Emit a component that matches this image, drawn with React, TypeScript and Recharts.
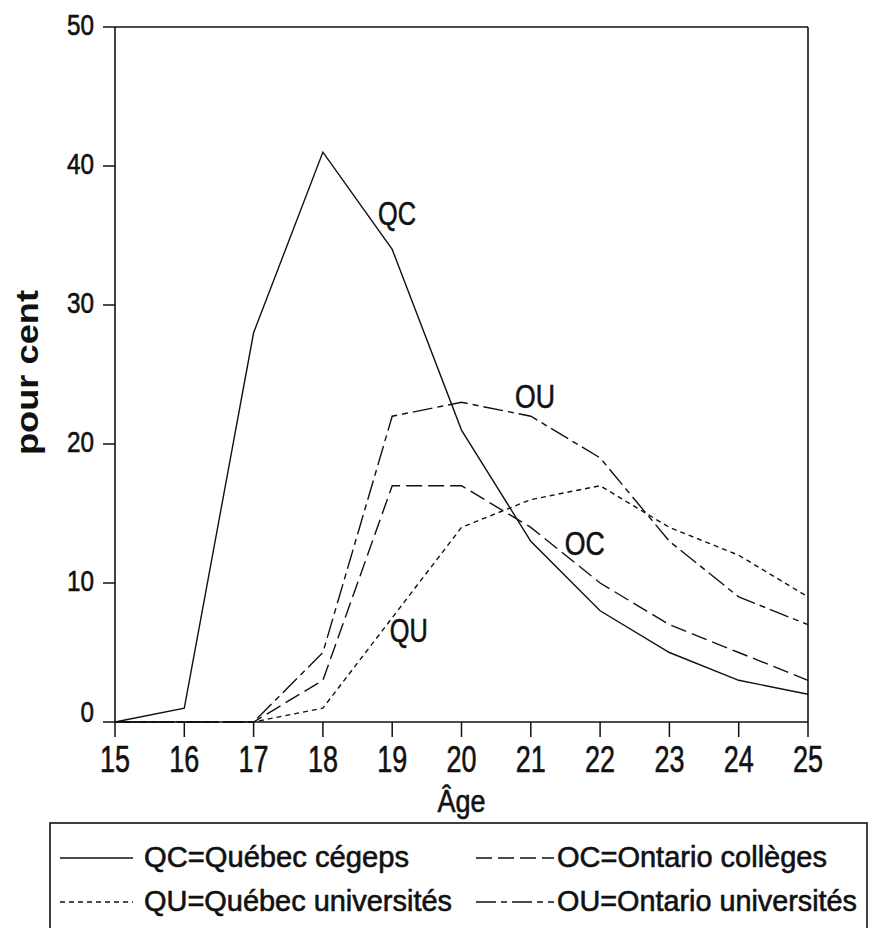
import React from 'react';
import { LineChart, Line, XAxis, YAxis, ReferenceLine, ReferenceDot, Legend } from 'recharts';

const ages = [15, 16, 17, 18, 19, 20, 21, 22, 23, 24, 25];
const qcValues = [0, 1, 28, 41, 34, 21, 13, 8, 5, 3, 2];
const ocValues = [0, 0, 0, 3, 17, 17, 14, 10, 7, 5, 3];
const quValues = [0, 0, 0, 1, 7.5, 14, 16, 17, 14, 12, 9];
const ouValues = [0, 0, 0, 5, 22, 23, 22, 19, 13, 9, 7];
const xTicks = ages;
const yTicks = [0, 10, 20, 30, 40, 50];
const seriesKeys = ['qc', 'oc', 'qu', 'ou'];
const seriesNames = ['QC=Québec cégeps', 'OC=Ontario collèges', 'QU=Québec universités', 'OU=Ontario universités'];
const shortNames = ['QC', 'OC', 'QU', 'OU'];

const data = ages.map((age, i) => ({
  age,
  qc: qcValues[i],
  oc: ocValues[i],
  qu: quValues[i],
  ou: ouValues[i],
}));

const FONT = "'Liberation Sans', Arial, sans-serif";
const INK = '#111';
const THICK = 0.6;

const XTick = (props: any) => {
  const { x, y, payload } = props;
  const s = String(payload.value);
  return (
    <text x={x} y={y + 35} textAnchor="middle" fontSize={37} fontFamily={FONT} fill={INK}
      stroke={INK} strokeWidth={THICK}
      textLength={15 * s.length} lengthAdjust="spacingAndGlyphs">{s}</text>
  );
};

const YTick = (props: any) => {
  const { x, y, payload } = props;
  const s = String(payload.value);
  const base = payload.value === 0 ? y : y + 8;
  return (
    <text x={x - 9} y={base} textAnchor="end" fontSize={29} fontFamily={FONT} fill={INK}
      stroke={INK} strokeWidth={THICK}
      textLength={13.5 * s.length} lengthAdjust="spacingAndGlyphs">{s}</text>
  );
};

const XLabel = (props: any) => {
  const vb = props.viewBox || {};
  return (
    <text x={vb.x + vb.width / 2} y={vb.y + 90} textAnchor="middle" fontSize={32} fontFamily={FONT} fill={INK}
      stroke={INK} strokeWidth={THICK}
      textLength={48} lengthAdjust="spacingAndGlyphs">Âge</text>
  );
};

const YLabel = (props: any) => {
  const vb = props.viewBox || {};
  const cx = vb.x - 17;
  const cy = vb.y + vb.height / 2 - 2;
  return (
    <text transform={`translate(${cx},${cy}) rotate(-90)`} textAnchor="middle" fontSize={31} fontWeight="bold"
      fontFamily={FONT} fill={INK} textLength={165} lengthAdjust="spacingAndGlyphs">pour cent</text>
  );
};

const makeTag = (txt: string, w: number) => (props: any) => {
  const vb = props.viewBox || {};
  return (
    <text x={vb.x} y={vb.y} textAnchor="middle" fontSize={34} fontFamily={FONT} fill={INK}
      stroke={INK} strokeWidth={THICK}
      textLength={w} lengthAdjust="spacingAndGlyphs">{txt}</text>
  );
};

const legendTextWidths = [265, 270, 308, 300];

const LegendBox = (props: any) => {
  const raw = props.payload || [];
  const payload = seriesKeys
    .map((k) => raw.find((e: any) => e.dataKey === k))
    .filter(Boolean);
  const cols = [{ lx1: 60, lx2: 133, tx: 144 }, { lx1: 476, lx2: 554, tx: 557 }];
  const rows = [{ ly: 858, ty: 867 }, { ly: 902, ty: 911 }];
  return (
    <svg width={873} height={928} style={{ position: 'absolute', left: 0, top: 0 }}>
      <rect x={50} y={823} width={817} height={200} fill="none" stroke={INK} strokeWidth={1.6} />
      {payload.map((entry: any, i: number) => {
        const c = cols[i % 2];
        const r = rows[Math.floor(i / 2)];
        const dash = entry.payload && entry.payload.strokeDasharray;
        return (
          <g key={i}>
            <line x1={c.lx1} x2={c.lx2} y1={r.ly} y2={r.ly} stroke={INK} strokeWidth={1.5} strokeDasharray={dash} />
            <text x={c.tx} y={r.ty} fontSize={29} fontFamily={FONT} fill={INK}
              stroke={INK} strokeWidth={THICK}
              textLength={legendTextWidths[i]} lengthAdjust="spacingAndGlyphs">{entry.value}</text>
          </g>
        );
      })}
    </svg>
  );
};

export default function App() {
  return (
    <div style={{ position: 'absolute', left: 0, top: 0, width: 873, height: 928, background: '#fff' }}>
      <LineChart width={873} height={928} data={data} margin={{ top: 27, right: 65, bottom: 156, left: 55 }}>
        <XAxis dataKey="age" type="number" domain={[15, 25]} ticks={xTicks} interval={0}
          tickSize={15} tickMargin={0} tick={<XTick />} height={50}
          axisLine={{ stroke: INK, strokeWidth: 1.6 }} tickLine={{ stroke: INK, strokeWidth: 1.5 }}
          label={XLabel} />
        <YAxis type="number" domain={[0, 50]} ticks={yTicks} interval={0} width={60}
          tickSize={12} tickMargin={0} tick={<YTick />}
          axisLine={{ stroke: INK, strokeWidth: 1.6 }} tickLine={{ stroke: INK, strokeWidth: 1.5 }}
          label={YLabel} />
        <ReferenceLine y={50} stroke={INK} strokeWidth={1.6} />
        <ReferenceLine x={25} stroke={INK} strokeWidth={1.6} />
        <Line dataKey="qc" name={seriesNames[0]} type="linear" stroke={INK} strokeWidth={1.4} dot={false} isAnimationActive={false} />
        <Line dataKey="oc" name={seriesNames[1]} type="linear" stroke={INK} strokeWidth={1.4} strokeDasharray="16 6" dot={false} isAnimationActive={false} />
        <Line dataKey="qu" name={seriesNames[2]} type="linear" stroke={INK} strokeWidth={1.4} strokeDasharray="5 4" dot={false} isAnimationActive={false} />
        <Line dataKey="ou" name={seriesNames[3]} type="linear" stroke={INK} strokeWidth={1.4} strokeDasharray="20 5 6 5" dot={false} isAnimationActive={false} />
        <ReferenceDot x={19.07} y={35.75} r={0} fill="none" stroke="none" label={makeTag(shortNames[0], 38)} />
        <ReferenceDot x={21.78} y={12.0} r={0} fill="none" stroke="none" label={makeTag(shortNames[1], 40)} />
        <ReferenceDot x={19.24} y={5.76} r={0} fill="none" stroke="none" label={makeTag(shortNames[2], 38)} />
        <ReferenceDot x={21.06} y={22.6} r={0} fill="none" stroke="none" label={makeTag(shortNames[3], 40)} />
        <Legend verticalAlign="middle" align="center" layout="horizontal" content={LegendBox}
          wrapperStyle={{ left: 0, top: 0, width: 873, height: 928, pointerEvents: 'none' }} />
      </LineChart>
    </div>
  );
}
